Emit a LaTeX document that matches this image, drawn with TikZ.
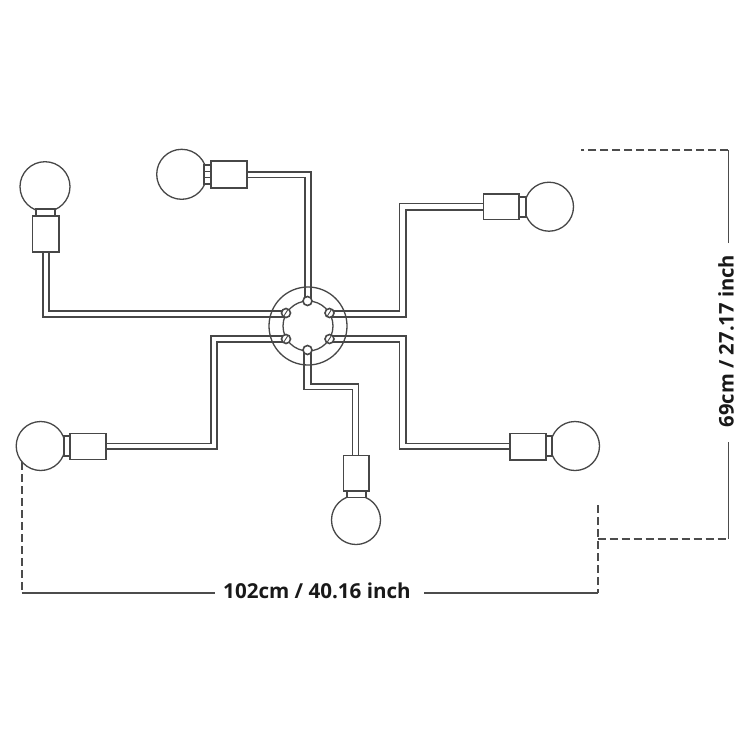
\documentclass[tikz,border=0pt]{standalone}
\usepackage{fontspec}
\setmainfont{Open Sans}
\tikzset{
  x=1pt,y=-1pt,
  ln/.style={draw=black!72,line width=1.6pt,line join=miter},
  bulb/.style={ln,fill=white,line width=1.3pt},
  part/.style={ln,fill=white},
  dim/.style={draw=black!70,line width=1.6pt},
  dimd/.style={dim,dash pattern=on 8pt off 4pt},
  lab/.style={font=\bfseries\fontsize{20.6pt}{22pt}\selectfont,text=black!90,inner sep=0pt},
  labv/.style={font=\bfseries\fontsize{20.2pt}{22pt}\selectfont,text=black!90,inner sep=0pt},
}
\begin{document}
\begin{tikzpicture}
\useasboundingbox (0,0) rectangle (750,750);
\fill[white] (0,0) rectangle (750,750);
% hub coordinates
\coordinate (hub) at (308,326);
\coordinate (sT) at (307.5,301);
\coordinate (sB) at (307.5,350);
\coordinate (sUL) at (286,313);
\coordinate (sUR) at (329.5,313);
\coordinate (sLL) at (286,339);
\coordinate (sLR) at (329.5,339);
% pipes
\draw[ln] (42.7,252) -- (42.7,316.7) -- (286,316.7);
\draw[ln] (48.7,252) -- (48.7,311) -- (286,311);
\draw[ln] (246.7,171.7) -- (311,171.7) -- (311,301);
\draw[ln] (246.7,177.5) -- (305,177.5) -- (305,301);
\draw[ln] (483.3,203.3) -- (399.3,203.3) -- (399.3,311) -- (330,311);
\draw[ln] (483.3,210) -- (405.7,210) -- (405.7,316.7) -- (330,316.7);
\draw[ln] (106,443.3) -- (210.7,443.3) -- (210.7,336) -- (286,336);
\draw[ln] (106,449) -- (216.7,449) -- (216.7,341.7) -- (286,341.7);
\draw[ln] (510,443.3) -- (405.7,443.3) -- (405.7,336) -- (330,336);
\draw[ln] (510,449) -- (399.3,449) -- (399.3,341.7) -- (330,341.7);
\draw[ln] (304,350) -- (304,389.3) -- (352.3,389.3) -- (352.3,455.3);
\draw[ln] (310.7,350) -- (310.7,384) -- (358.3,384) -- (358.3,455.3);
% hub
\draw[ln,line width=1.3pt] (hub) circle[radius=39];
\draw[ln,line width=1.3pt] (hub) circle[radius=25];
\foreach \s in {sT,sB,sUL,sUR,sLL,sLR}
  \draw[part] (\s) circle[radius=4.5];
\draw[ln,line width=.9pt] (283.5,316.5) -- (288,309.5);
\draw[ln,line width=.9pt] (327,316.5) -- (331.5,309.5);
\draw[ln,line width=.9pt] (283.5,342.5) -- (288,335.5);
\draw[ln,line width=.9pt] (327,342.5) -- (331.5,335.5);
% lamp 1
\draw[bulb] (45,186.7) circle[radius=25];
\draw[part] (36,209) rectangle (55,216);
\draw[part] (32.3,216) rectangle (59,252);
% lamp 2
\draw[bulb] (181.7,174.3) circle[radius=25];
\draw[part] (204,165) rectangle (210.7,184);
\draw[ln,line width=.9pt] (204,171.7) -- (210.7,171.7) (204,177.5) -- (210.7,177.5);
\draw[part] (210.7,161) rectangle (246.7,187.7);
% lamp 3
\draw[bulb] (549,206.7) circle[radius=24.5];
\draw[part] (519,197) rectangle (525.7,216.7);
\draw[part] (483.3,194) rectangle (519,219.3);
% lamp 4
\draw[bulb] (40.7,446) circle[radius=24.5];
\draw[part] (64,436) rectangle (70,456);
\draw[part] (70,433.3) rectangle (106,459.3);
% lamp 5
\draw[bulb] (356,520) circle[radius=24.5];
\draw[part] (346.7,491) rectangle (365.7,497.3);
\draw[part] (343.3,455.3) rectangle (369,491);
% lamp 6
\draw[bulb] (575,446) circle[radius=24.5];
\draw[part] (545.7,436) rectangle (551.7,456);
\draw[part] (510,433.3) rectangle (545.7,460);
% dimensions
\coordinate (a) at (21.7,462);
\coordinate (b) at (21.7,593);
\coordinate (c) at (597.7,593);
\coordinate (d) at (597.7,505);
\coordinate (e) at (597.7,539);
\coordinate (f) at (728.3,539);
\coordinate (g) at (728.3,150);
\coordinate (h) at (581,150);
\node[lab] (wlab) at (317,591) {102cm / 40.16 inch};
\node[labv,rotate=90] (hlab) at (726,341) {69cm / 27.17 inch};
\draw[dimd] (a) -- (b);
\draw[dim] (b) -- (215,593);
\draw[dim] (424,593) -- (c);
\draw[dimd] (d) -- (c);
\draw[dimd] (e) -- (f);
\draw[dim] (f) -- (728.3,441.7);
\draw[dim] (728.3,243) -- (g);
\draw[dimd] (g) -- (h);
\end{tikzpicture}
\end{document}
